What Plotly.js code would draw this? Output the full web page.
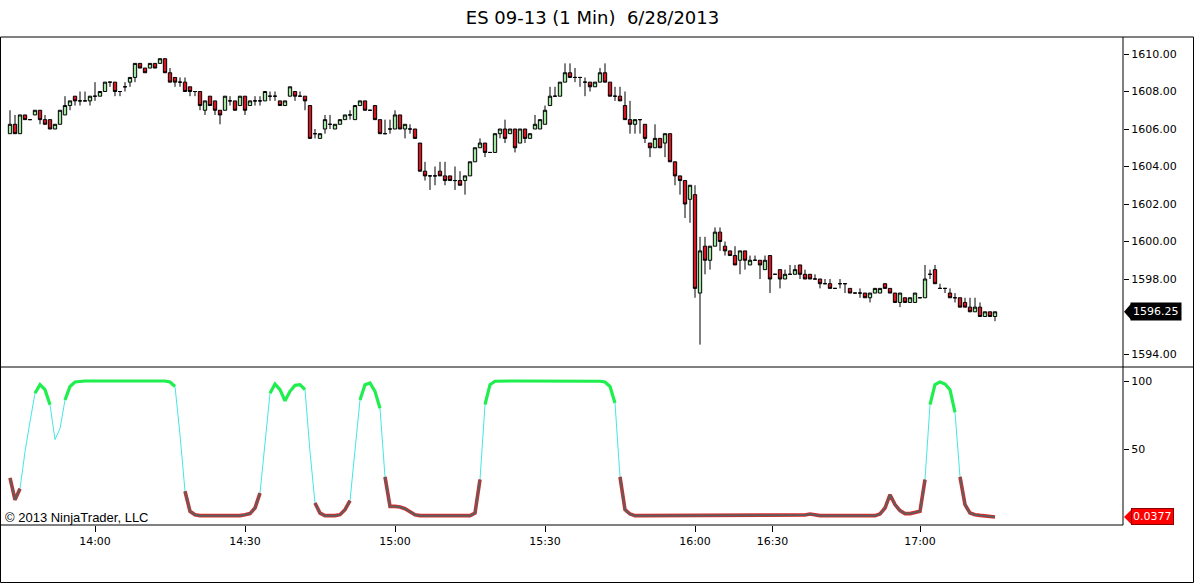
<!DOCTYPE html>
<html>
<head>
<meta charset="utf-8">
<script src="https://cdn.plot.ly/plotly-3.0.1.min.js"></script>
<style>
html,body{margin:0;padding:0;background:#fff;}
#chart{width:1194px;height:583px;}
</style>
</head>
<body>
<div id="chart"></div>
<script>
// ---- Data ----
const chartTitle = "ES 09-13 (1 Min)  6/28/2013";

const openPrices = [
1605.75,1606.25,1605.75,1606.75,1606.5,1606.75,1607.0,1606.5,1606.5,1606.0,
1606.25,1606.75,1607.25,1607.75,1607.5,1607.5,1607.5,1607.75,1607.75,1608.0,
1608.5,1608.5,1608.0,1608.25,1608.5,1608.75,1609.5,1609.25,1609.25,1609.5,
1609.5,1609.75,1609.0,1608.75,1608.5,1608.5,1608.25,1608.0,1608.0,1607.0,
1607.75,1607.5,1607.0,1607.0,1607.5,1607.5,1607.25,1607.75,1607.25,1607.5,
1607.5,1607.5,1607.75,1607.75,1607.5,1607.25,1607.75,1608.0,1607.75,1607.75,
1607.25,1605.75,1605.5,1606.0,1606.25,1606.0,1606.25,1606.5,1606.75,1606.5,
1607.25,1607.5,1607.0,1607.25,1606.5,1605.75,1606.0,1606.0,1606.75,1606.0,
1606.0,1606.0,1605.25,1603.75,1603.5,1603.5,1603.75,1603.5,1603.5,1603.25,
1603.25,1603.25,1603.5,1604.25,1605.0,1605.25,1604.75,1604.75,1605.75,1606.0,
1605.75,1606.0,1605.25,1606.0,1605.5,1606.0,1606.0,1606.25,1607.25,1607.75,
1607.75,1608.5,1609.0,1608.75,1608.75,1608.5,1608.5,1608.25,1608.5,1609.0,
1608.5,1607.75,1607.75,1607.25,1606.5,1606.25,1606.5,1606.25,1605.25,1605.0,
1605.5,1605.25,1605.75,1604.25,1603.5,1603.25,1602.25,1602.5,1597.25,1599.75,
1599.0,1599.75,1600.5,1599.75,1599.5,1599.25,1599.0,1599.5,1598.75,1599.0,
1599.0,1598.5,1599.25,1598.25,1598.5,1598.0,1598.25,1598.25,1598.75,1598.25,
1598.25,1598.0,1598.0,1597.75,1597.75,1597.5,1597.75,1597.75,1597.5,1597.25,
1597.25,1597.25,1597.0,1597.25,1597.25,1597.75,1597.5,1597.25,1596.75,1597.0,
1596.75,1596.75,1597.0,1597.0,1598.25,1598.5,1597.5,1597.5,1597.25,1597.0,
1597.0,1596.75,1596.5,1596.25,1596.5,1596.0,1596.25,1596.0
];
const highPrices = [
1607.0,1606.75,1606.75,1606.75,1606.5,1607.0,1607.0,1606.75,1606.5,1606.25,
1607.0,1607.75,1607.5,1607.75,1608.0,1608.0,1607.75,1608.5,1608.0,1608.5,
1608.5,1608.5,1608.0,1608.5,1608.75,1609.5,1609.5,1609.25,1609.5,1609.5,
1609.75,1609.75,1609.25,1608.75,1608.75,1608.75,1608.25,1608.0,1608.0,1607.5,
1607.75,1607.5,1607.0,1607.75,1607.75,1607.5,1607.75,1607.75,1607.5,1607.75,
1607.75,1608.0,1608.0,1608.0,1607.5,1607.5,1608.25,1608.0,1608.0,1607.75,
1607.25,1606.0,1605.75,1606.75,1606.75,1606.25,1606.5,1606.75,1607.0,1607.25,
1607.5,1607.5,1607.0,1607.25,1606.5,1606.5,1606.5,1607.0,1606.75,1606.25,
1606.25,1606.0,1605.25,1604.25,1603.5,1604.0,1604.25,1604.25,1603.5,1604.0,
1603.75,1603.5,1604.25,1605.0,1605.5,1605.25,1604.75,1605.75,1606.0,1606.5,
1606.0,1606.0,1606.0,1606.0,1605.75,1606.75,1606.5,1607.25,1608.25,1608.25,
1608.5,1609.5,1609.5,1609.25,1608.75,1608.75,1608.5,1608.5,1609.25,1609.5,
1608.5,1608.25,1608.25,1608.0,1607.5,1606.5,1606.5,1606.25,1605.25,1606.25,
1605.5,1605.75,1605.75,1604.25,1603.5,1603.25,1603.0,1603.0,1600.25,1600.25,
1599.75,1600.75,1600.75,1600.0,1599.5,1599.75,1599.5,1599.5,1599.25,1599.25,
1599.0,1599.25,1599.25,1598.25,1598.5,1598.5,1598.75,1598.75,1598.75,1598.5,
1598.25,1598.25,1598.0,1598.0,1598.0,1597.5,1598.0,1597.75,1597.5,1597.25,
1597.5,1597.25,1597.25,1597.5,1597.5,1597.75,1597.5,1597.25,1597.25,1597.0,
1597.0,1597.25,1597.0,1598.75,1598.5,1598.75,1597.75,1597.5,1597.5,1597.25,
1597.0,1597.0,1597.0,1597.0,1596.75,1596.25,1596.25,1596.25
];
const lowPrices = [
1605.75,1605.75,1605.75,1606.5,1606.5,1606.75,1606.25,1606.25,1606.0,1606.0,
1606.25,1606.75,1607.0,1607.25,1607.25,1607.5,1607.25,1607.5,1607.75,1608.0,
1608.25,1607.75,1607.75,1608.0,1608.25,1608.5,1609.25,1609.0,1609.25,1609.25,
1609.5,1609.0,1608.5,1608.25,1608.25,1608.0,1607.75,1607.75,1607.0,1606.75,
1607.25,1606.75,1606.25,1607.0,1607.25,1607.0,1607.25,1606.75,1607.25,1607.25,
1607.25,1607.5,1607.5,1607.5,1607.25,1607.25,1607.75,1607.5,1607.75,1607.0,
1605.5,1605.5,1605.5,1605.75,1606.0,1606.0,1606.25,1606.5,1606.5,1606.5,
1607.25,1607.0,1607.0,1606.5,1605.75,1605.75,1605.75,1606.0,1606.0,1605.5,
1605.75,1605.5,1603.75,1603.25,1602.75,1603.0,1603.5,1603.0,1603.25,1602.75,
1603.0,1602.5,1603.5,1604.25,1605.0,1604.5,1604.75,1604.75,1605.5,1605.25,
1605.75,1604.75,1605.25,1605.25,1605.5,1606.0,1606.0,1606.25,1607.25,1607.75,
1607.75,1608.5,1608.75,1608.5,1608.25,1607.75,1608.0,1608.25,1608.5,1608.5,
1607.75,1607.5,1607.5,1606.5,1605.75,1605.75,1605.75,1605.25,1604.5,1605.0,
1605.0,1604.5,1604.25,1603.0,1602.5,1601.25,1601.0,1597.0,1594.5,1598.25,
1598.5,1599.75,1599.5,1599.25,1599.25,1598.75,1598.25,1598.5,1598.75,1599.0,
1598.0,1598.5,1597.25,1598.25,1597.5,1598.0,1598.25,1598.25,1598.0,1598.0,
1598.0,1598.0,1597.5,1597.75,1597.5,1597.5,1597.5,1597.25,1597.25,1597.25,
1597.0,1597.0,1596.75,1597.25,1597.25,1597.5,1597.25,1596.75,1596.5,1596.75,
1596.75,1596.75,1597.0,1597.0,1598.0,1597.75,1597.5,1597.25,1597.0,1596.75,
1596.5,1596.5,1596.25,1596.25,1596.0,1596.0,1596.0,1595.75
];
const closePrices = [
1606.25,1605.75,1606.75,1606.5,1606.5,1607.0,1606.5,1606.25,1606.0,1606.25,
1607.0,1607.25,1607.5,1607.5,1607.5,1607.5,1607.75,1607.75,1608.0,1608.5,
1608.5,1608.0,1608.0,1608.25,1608.75,1609.5,1609.25,1609.0,1609.5,1609.25,
1609.75,1609.0,1608.5,1608.5,1608.5,1608.0,1608.0,1608.0,1607.25,1607.5,
1607.25,1607.0,1606.75,1607.75,1607.5,1607.0,1607.75,1607.0,1607.5,1607.5,
1607.5,1608.0,1607.75,1607.75,1607.25,1607.5,1608.25,1607.75,1607.75,1607.5,
1605.5,1605.75,1605.75,1606.5,1606.25,1606.25,1606.5,1606.75,1606.75,1607.25,
1607.5,1607.0,1607.0,1606.5,1605.75,1605.75,1606.0,1606.75,1606.0,1606.25,
1606.0,1605.5,1603.75,1603.5,1603.5,1603.5,1603.5,1603.25,1603.25,1603.25,
1603.0,1603.5,1604.25,1605.0,1605.25,1604.75,1604.75,1605.75,1606.0,1605.5,
1606.0,1605.0,1606.0,1605.5,1605.75,1606.25,1606.5,1607.0,1607.75,1607.75,
1608.5,1609.0,1608.75,1608.75,1608.75,1608.5,1608.25,1608.5,1609.0,1608.5,
1607.75,1607.75,1607.5,1606.5,1606.25,1606.5,1606.5,1605.5,1605.0,1605.5,
1605.0,1605.75,1604.25,1603.5,1603.25,1602.0,1603.0,1597.5,1599.5,1599.0,
1599.75,1600.5,1600.0,1599.5,1599.25,1598.75,1599.5,1599.0,1599.0,1599.0,
1598.75,1599.0,1598.0,1598.25,1598.0,1598.25,1598.25,1598.5,1598.25,1598.0,
1598.0,1598.0,1597.75,1597.75,1597.5,1597.5,1597.75,1597.75,1597.25,1597.25,
1597.25,1597.0,1597.25,1597.5,1597.5,1597.5,1597.25,1596.75,1597.25,1596.75,
1597.0,1597.25,1597.0,1598.0,1598.25,1597.75,1597.5,1597.5,1597.0,1597.0,
1596.5,1596.5,1596.25,1596.5,1596.0,1596.25,1596.0,1596.25
];
const oscValues = [
28.7,12.7,20.8,48,70,91,97.3,93.6,82.6,56.9,
65,86,96,99.3,99.8,100,100,100,100,100,
100,100,100,100,100,100,100,100,100,100,
100,100,99.3,96,60.5,18.9,4.2,1.7,1,1,
1,1,1,1,1,1,1,1.7,2.5,6.6,
17.6,55.6,91,97.8,93.6,85.5,92.4,96.8,97.3,93.6,
48,10.3,2.9,1,1,1,1.7,5.4,12,50.7,
86,97.3,98.5,92.4,80,29.5,7.8,7.8,7.4,6.1,
3.7,1.7,1,1,1,1,1,1,1,1,
1,1,1,2.9,27.5,82.6,97.3,99.8,100,100,
100,100,100,100,100,100,100,100,100,100,
100,100,100,100,100,100,100,100,99.8,99.3,
96,83.8,29.5,5.4,2.2,1,1,1,1,1,
1,1,1,1,1,1,1,1,1,1,
1,1,1,1,1,1,1,1,1,1,
1,1,1,1,1,1,1,1,1,1.5,
2.2,1.5,1,1,1,1,1,1,1,1,
1,1,1,1,2.2,6.6,16.4,9.1,4.7,2.5,
2.5,3.4,4.2,27.5,82.6,97.3,99.3,97.8,93.6,77,
29.5,9.1,2.9,1.7,1.2,0.7,0.4,0.0377
];
const timeTickLabels = ["14:00","14:30","15:00","15:30","16:00","16:30","17:00"];
const timeTickBars   = [17, 47, 77, 107, 137, 152.5, 182];
// 1596.00 is hidden behind the last-price marker in the reference
const priceTicks = [1594,1598,1600,1602,1604,1606,1608,1610];
const oscTicks = [50, 100];
const lastPriceText = "1596.25";
const lastOscText = "0.0377";
const copyrightText = "\u00A9 2013 NinjaTrader, LLC";

// ---- Build ----
const barIdx = closePrices.map((_, i) => i);

const candle = {
  type: 'candlestick',
  x: barIdx, open: openPrices, high: highPrices, low: lowPrices, close: closePrices,
  xaxis: 'x', yaxis: 'y',
  increasing: {fillcolor: '#A2E6A2', line: {color: '#000000', width: 1}},
  decreasing: {fillcolor: '#D81420', line: {color: '#000000', width: 1}},
  whiskerwidth: 0,
  hoverinfo: 'skip',
  showlegend: false
};

function zone(a, b) {
  if (a >= 75 && b >= 75) return 'green';
  if (a < 30 && b < 30) return 'red';
  return 'cyan';
}
const seg = {green: {x: [], y: []}, cyan: {x: [], y: []}, red: {x: [], y: []}};
let prev = null;
for (let i = 0; i < oscValues.length - 1; i++) {
  const c = zone(oscValues[i], oscValues[i + 1]);
  const s = seg[c];
  if (c !== prev) {
    if (s.x.length) { s.x.push(null); s.y.push(null); }
    s.x.push(barIdx[i]); s.y.push(oscValues[i]);
  }
  s.x.push(barIdx[i + 1]); s.y.push(oscValues[i + 1]);
  prev = c;
}
function oscTrace(s, color, width) {
  return {type: 'scatter', mode: 'lines', x: s.x, y: s.y, xaxis: 'x', yaxis: 'y2',
    line: {color: color, width: width}, connectgaps: false, hoverinfo: 'skip', showlegend: false};
}
const traces = [
  candle,
  oscTrace(seg.cyan, '#46E6E6', 1),
  oscTrace(seg.red, '#E02828', 3.6),
  oscTrace(seg.red, '#5E5E5E', 2.0),
  oscTrace(seg.green, '#1EEE4E', 3.2)
];

// geometry helpers (plot area: x 1..1123 px, y 37..525 px)
const PX = px => (px - 1) / 1122;
const PY = py => (525 - py) / 488;
const pxPerPrice = 18.75;
const pxPerOsc = 1.36;
const lastClose = closePrices[closePrices.length - 1];
const lastOsc = oscValues[oscValues.length - 1];

const shapes = [
  {type: 'rect', xref: 'paper', yref: 'paper', x0: PX(0.5), x1: PX(1193.5), y0: PY(582.5), y1: PY(37), line: {color: '#000', width: 1}},
  {type: 'line', xref: 'paper', yref: 'paper', x0: PX(0.5), x1: PX(1193.5), y0: PY(367), y1: PY(367), line: {color: '#000', width: 1}},
  {type: 'line', xref: 'paper', yref: 'paper', x0: PX(0.5), x1: 1, y0: 0, y1: 0, line: {color: '#000', width: 1}},
  {type: 'line', xref: 'paper', yref: 'paper', x0: 1, x1: 1, y0: 0, y1: 1, line: {color: '#000', width: 1}},
  {type: 'path', xref: 'paper', yref: 'y',
   path: 'M ' + PX(1124) + ' ' + lastClose +
         ' L ' + PX(1131) + ' ' + (lastClose + 8 / pxPerPrice) +
         ' L ' + PX(1131) + ' ' + (lastClose - 8 / pxPerPrice) + ' Z',
   fillcolor: '#000', line: {width: 0}},
  {type: 'path', xref: 'paper', yref: 'y2',
   path: 'M ' + PX(1124) + ' ' + lastOsc +
         ' L ' + PX(1132) + ' ' + (lastOsc + 8 / pxPerOsc) +
         ' L ' + PX(1132) + ' ' + (lastOsc - 8 / pxPerOsc) + ' Z',
   fillcolor: '#FF0000', line: {width: 0}}
];

const annotations = [
  {xref: 'paper', yref: 'y', x: PX(1130), y: lastClose, xanchor: 'left', yanchor: 'middle',
   text: lastPriceText, showarrow: false, bgcolor: '#000', borderpad: 2,
   font: {family: 'DejaVu Sans', size: 11, color: '#fff'}},
  {xref: 'paper', yref: 'y2', x: PX(1131), y: lastOsc, xanchor: 'left', yanchor: 'middle',
   text: lastOscText, showarrow: false, bgcolor: '#FF0000', bordercolor: '#8B0000', borderwidth: 1, borderpad: 1,
   font: {family: 'DejaVu Sans', size: 11, color: '#fff'}},
  {xref: 'paper', yref: 'paper', x: PX(3), y: PY(517), xanchor: 'left', yanchor: 'middle',
   text: copyrightText, showarrow: false,
   font: {family: 'Liberation Sans', size: 13, color: '#000'}}
];

const split = PY(367);
const layout = {
  width: 1194, height: 583,
  margin: {l: 1, r: 71, t: 37, b: 58, pad: 0},
  paper_bgcolor: '#fff', plot_bgcolor: '#fff',
  font: {family: 'DejaVu Sans', size: 11, color: '#000'},
  title: {text: chartTitle, x: 592.5 / 1194, xref: 'container', xanchor: 'center',
          y: 1 - 18 / 583, yref: 'container', yanchor: 'middle',
          font: {family: 'DejaVu Sans', size: 18, color: '#000'}},
  showlegend: false,
  hovermode: false,
  boxgap: 0.05,
  xaxis: {
    anchor: 'y2', range: [-1.8, 222.6],
    tickmode: 'array', tickvals: timeTickBars, ticktext: timeTickLabels,
    ticks: 'outside', ticklen: 6, tickcolor: '#000', tickwidth: 1,
    showgrid: false, zeroline: false, showline: false,
    rangeslider: {visible: false}, fixedrange: true,
    tickfont: {family: 'DejaVu Sans', size: 11, color: '#000'}
  },
  yaxis: {
    domain: [split, 1], anchor: 'x', side: 'right',
    range: [1594 - 13 / pxPerPrice, 1610 + 17 / pxPerPrice],
    tickmode: 'array', tickvals: priceTicks, tickformat: '.2f',
    ticks: 'outside', ticklen: 5, tickcolor: '#000',
    showgrid: false, zeroline: false, showline: false, fixedrange: true,
    tickfont: {family: 'DejaVu Sans', size: 11, color: '#000'}
  },
  yaxis2: {
    domain: [0, split], anchor: 'x', side: 'right',
    range: [-8 / pxPerOsc, 100 + 14 / pxPerOsc],
    tickmode: 'array', tickvals: oscTicks,
    ticks: 'outside', ticklen: 5, tickcolor: '#000',
    showgrid: false, zeroline: false, showline: false, fixedrange: true,
    tickfont: {family: 'DejaVu Sans', size: 11, color: '#000'}
  },
  shapes: shapes,
  annotations: annotations
};

Plotly.newPlot('chart', traces, layout, {staticPlot: true, displayModeBar: false});
</script>
</body>
</html>
